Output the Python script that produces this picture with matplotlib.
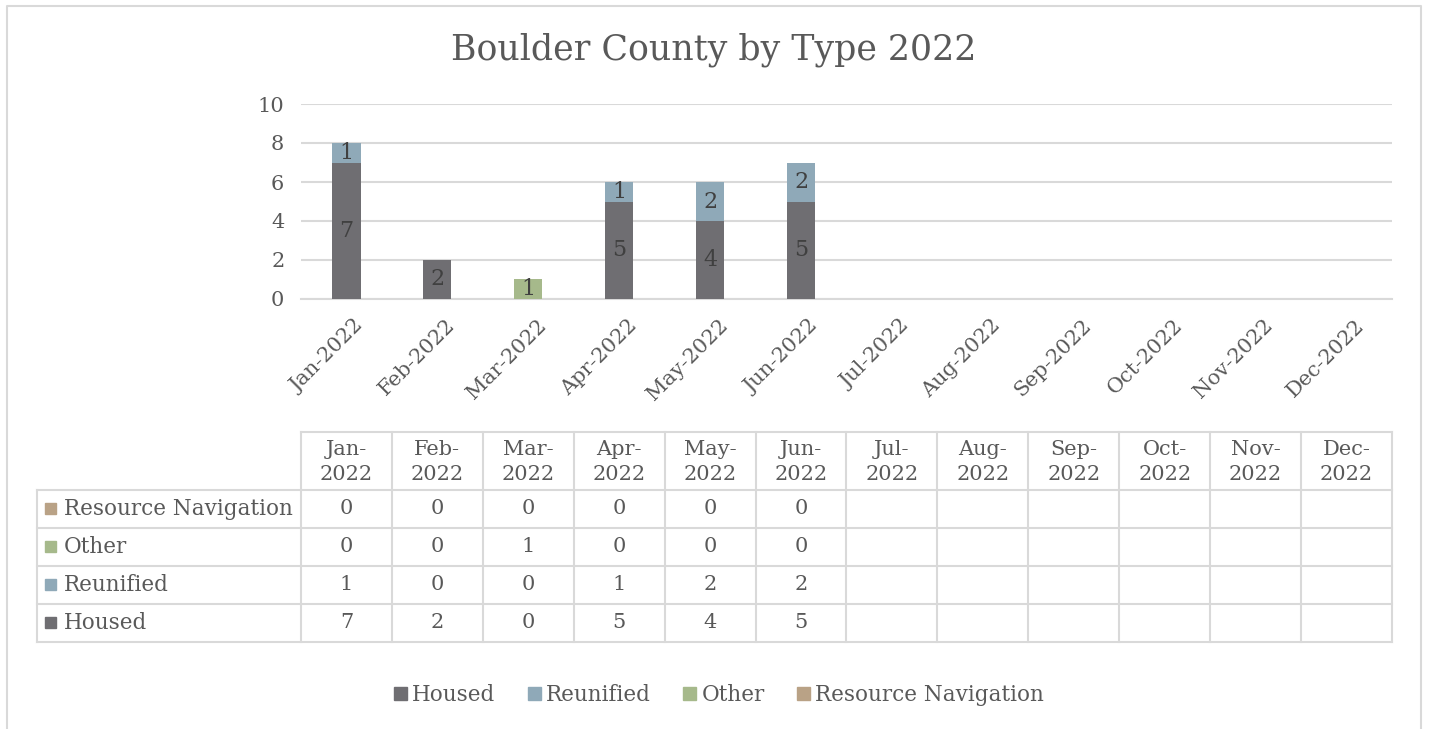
import matplotlib.pyplot as plt
import matplotlib.transforms as mtransforms
import numpy as np

plt.rcParams['font.family'] = ['DejaVu Serif']

months = ['Jan-2022', 'Feb-2022', 'Mar-2022', 'Apr-2022', 'May-2022', 'Jun-2022',
          'Jul-2022', 'Aug-2022', 'Sep-2022', 'Oct-2022', 'Nov-2022', 'Dec-2022']
housed = [7, 2, 0, 5, 4, 5]
reunified = [1, 0, 0, 1, 2, 2]
other = [0, 0, 1, 0, 0, 0]
resource_nav = [0, 0, 0, 0, 0, 0]

series = [('Housed', housed, '#6f6e72'),
          ('Reunified', reunified, '#8fa9b8'),
          ('Other', other, '#a6b98b'),
          ('Resource Navigation', resource_nav, '#b9a286')]

txt = '#595959'
grid_c = '#d9d9d9'
W, H = 1429, 729

fig = plt.figure(figsize=(W / 100, H / 100), dpi=100)

# outer frame
frame = fig.add_axes([0, 0, 1, 1])
frame.set_xlim(0, W)
frame.set_ylim(H, 0)
frame.axis('off')
frame.plot([7, 7, 1421, 1421], [735, 6, 6, 735], color=grid_c, lw=1.5, clip_on=False)

# chart area
x0, x1, ytop, ybot = 301, 1392, 104, 299
ax = fig.add_axes([x0 / W, (H - ybot) / H, (x1 - x0) / W, (ybot - ytop) / H])
x = np.arange(len(months))
bottom = np.zeros(len(housed))
for name, vals, col in series:
    ax.bar(x[:len(vals)], vals, width=0.31, bottom=bottom, color=col, zorder=3)
    for i, v in enumerate(vals):
        if v:
            ax.text(i, bottom[i] + v / 2, str(v), ha='center', va='center',
                    fontsize=16, color='#404040', zorder=4)
    bottom += np.array(vals)

ax.set_xlim(-0.5, len(months) - 0.5)
ax.set_ylim(0, 10)
ax.set_yticks(range(0, 11, 2))
ax.yaxis.grid(True, color=grid_c, lw=1.5, zorder=0)
ax.set_xticks(x)
ax.set_xticklabels(months, rotation=45, ha='right', rotation_mode='anchor')
ax.tick_params(axis='both', length=0, labelsize=15, labelcolor=txt)
ax.tick_params(axis='y', pad=12)
ax.tick_params(axis='x', pad=12)
shift = mtransforms.ScaledTranslation(8 / 100, 0, fig.dpi_scale_trans)
for lab in ax.get_xticklabels():
    lab.set_transform(lab.get_transform() + shift)
for s in ['top', 'right', 'left']:
    ax.spines[s].set_visible(False)
ax.spines['bottom'].set_color(grid_c)
ax.spines['bottom'].set_linewidth(1.5)

fig.text(714 / W, 1 - 50 / H, 'Boulder County by Type 2022', ha='center', va='center',
         fontsize=25, color=txt)

# data table below
colw = (x1 - x0) / len(months)
lx = 37
rows_y = [432, 490, 528, 566, 604, 642]
lc = dict(color=grid_c, lw=1.5)
frame.plot([x0, x1], [rows_y[0]] * 2, **lc)
for yy in rows_y[1:]:
    frame.plot([lx, x1], [yy, yy], **lc)
frame.plot([lx, lx], [rows_y[1], rows_y[-1]], **lc)
for j in range(len(months) + 1):
    xx = x0 + j * colw
    frame.plot([xx, xx], [rows_y[0], rows_y[-1]], **lc)

for j, m in enumerate(months):
    cx = x0 + (j + 0.5) * colw
    a, b = m.split('-')
    frame.text(cx, (rows_y[0] + rows_y[1]) / 2 + 1, a + '-\n' + b, ha='center', va='center',
               fontsize=15, color=txt, linespacing=1.4)

table_rows = list(reversed(series))
for r, (name, vals, col) in enumerate(table_rows):
    cy = (rows_y[r + 1] + rows_y[r + 2]) / 2
    frame.add_patch(plt.Rectangle((45, cy - 6), 11, 11, color=col))
    frame.text(64, cy, name, ha='left', va='center', fontsize=15.5, color=txt)
    for j, v in enumerate(vals):
        frame.text(x0 + (j + 0.5) * colw, cy, str(v), ha='center', va='center',
                   fontsize=15, color=txt)

# legend
handles = [plt.Rectangle((0, 0), 1, 1, color=c) for _, _, c in series]
fig.legend(handles, [n for n, _, _ in series], loc='center', ncol=4,
           bbox_to_anchor=(719 / W, 1 - 695 / H), frameon=False, fontsize=15.5,
           handlelength=0.6, handleheight=0.6, handletextpad=0.25, columnspacing=1.5,
           labelcolor=txt)

fig.savefig('out.png', dpi=100)
